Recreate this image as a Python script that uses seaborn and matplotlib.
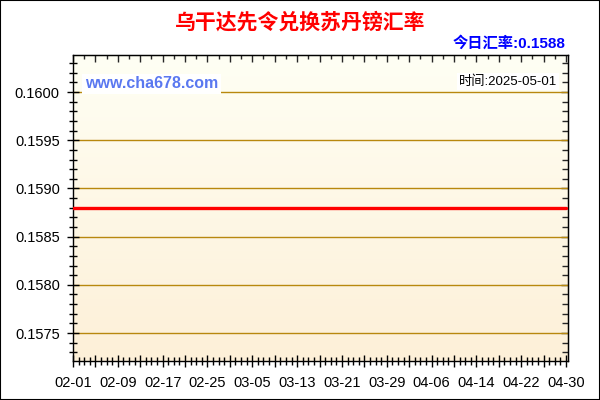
import numpy as np
import pandas as pd
import seaborn as sns
import matplotlib
matplotlib.use('Agg')
import matplotlib.pyplot as plt
import matplotlib.dates as mdates
from matplotlib.ticker import MultipleLocator, FuncFormatter
from matplotlib.colors import LinearSegmentedColormap
from matplotlib.patches import Rectangle

# chart data
title = '乌干达先令兑换苏丹镑汇率'
dates = ['2025-02-01', '2025-04-30']
rates = [0.1588, 0.1588]
today_rate = '0.1588'
update_date = '2025-05-01'
site = 'www.cha678.com'

df = pd.DataFrame({'date': pd.to_datetime(dates), 'rate': rates})

sns.set_style('ticks')
plt.rcParams['font.family'] = ['Liberation Sans', 'Noto Sans CJK SC', 'DejaVu Sans']

fig = plt.figure(figsize=(6, 4), dpi=100)
ax = fig.add_axes([73 / 600, 39 / 400, 495 / 600, 306 / 400])

# soft cream gradient behind the plot
grad = np.linspace(0, 1, 256).reshape(-1, 1)
bg = LinearSegmentedColormap.from_list('bg', ['#FFFFF4', '#FDF0D8'])
ax.imshow(grad, cmap=bg, aspect='auto', extent=[0, 1, 0, 1],
          transform=ax.transAxes, zorder=0)

sns.lineplot(data=df, x='date', y='rate', color='#FF0000', linewidth=2.4,
             ax=ax, zorder=3)

start = df['date'].iloc[0]
end = df['date'].iloc[-1]
ax.set_xlim(start, start + pd.Timedelta(days=88.35))
ax.set_ylim(0.15721, 0.160384)

major_x = pd.date_range(start, end, freq='4D')
ax.set_xticks(mdates.date2num(major_x))
ax.set_xticklabels([d.strftime('%m-%d') if i % 2 == 0 else '' for i, d in enumerate(major_x)])
ax.xaxis.set_minor_locator(mdates.DayLocator())
ax.yaxis.set_major_locator(MultipleLocator(0.0005))
ax.yaxis.set_minor_locator(MultipleLocator(0.0001))
ax.yaxis.set_major_formatter(FuncFormatter(lambda v, p: f'{v:.4f}'))

ax.set_axisbelow(True)
ax.grid(axis='y', which='major', color='#B8880E', linewidth=1)
ax.grid(axis='x', visible=False)
ax.set_xlabel('')
ax.set_ylabel('')

ax.tick_params(axis='both', which='major', direction='inout', length=9, width=1,
               color='black', labelsize=10.5, labelcolor='black')
ax.tick_params(axis='both', which='minor', direction='inout', length=6, width=1,
               color='black')
ax.tick_params(axis='y', pad=5)
ax.tick_params(axis='x', pad=6)
for s in ax.spines.values():
    s.set_color('black')
    s.set_linewidth(1)

# inward ticks on top and right
top = ax.secondary_xaxis('top')
top.set_xticks(mdates.date2num(major_x))
top.xaxis.set_minor_locator(mdates.DayLocator(interval=2))
top.tick_params(which='major', direction='in', length=5, width=1, labeltop=False)
top.tick_params(which='minor', direction='in', length=3, width=1)
right = ax.secondary_yaxis('right')
right.yaxis.set_major_locator(MultipleLocator(0.0005))
right.yaxis.set_minor_locator(MultipleLocator(0.0001))
right.tick_params(which='major', direction='in', length=5, width=1, labelright=False)
right.tick_params(which='minor', direction='in', length=4, width=1)

fig.text(0.5, 1 - 22 / 400, title, ha='center', va='center', color='#FF0000',
         fontsize=15, fontweight='bold')
fig.text(565 / 600, 1 - 43 / 400, '今日汇率:' + today_rate, ha='right', va='center',
         color='#0000FF', fontsize=11, fontweight='bold')
fig.text(85 / 600, 1 - 84 / 400, site, ha='left', va='center', color='#5A78F0',
         fontsize=11.5, fontweight='bold',
         bbox=dict(facecolor='white', edgecolor='none', pad=2))
fig.text(557 / 600, 1 - 81.5 / 400, '时间:' + update_date, ha='right', va='center',
         color='black', fontsize=9.5,
         bbox=dict(facecolor='white', edgecolor='none', pad=1.5))

fig.patches.append(Rectangle((0, 0), 1, 1, transform=fig.transFigure, fill=False,
                             edgecolor='black', linewidth=1.5))

fig.savefig('out.png', dpi=100)
